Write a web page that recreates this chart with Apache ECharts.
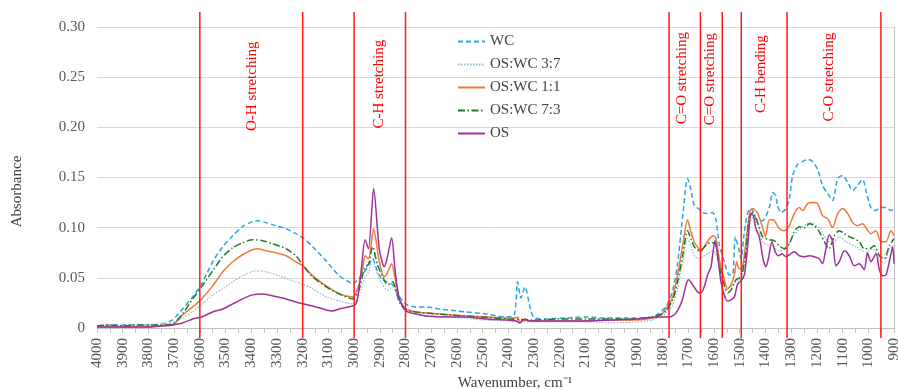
<!DOCTYPE html>
<html>
<head>
<meta charset="utf-8">
<script src="https://cdn.jsdelivr.net/npm/echarts@6.0.0/dist/echarts.min.js"></script>
<style>
html, body { margin: 0; padding: 0; background: #fff; }
#chart { width: 898px; height: 389px; }
</style>
</head>
<body>
<div id="chart"></div>
<script>
// data: [wavenumber, absorbance]
const wcPoints = [
  [4000,0.002],[3950,0.003],[3900,0.003],[3850,0.003],[3800,0.003],[3750,0.004],[3706,0.008],[3667,0.019],
  [3628,0.031],[3593,0.044],[3550,0.066],[3511,0.081],[3472,0.092],[3434,0.101],[3395,0.106],[3375,0.107],
  [3343,0.105],[3304,0.102],[3265,0.099],[3226,0.094],[3195,0.089],[3161,0.081],[3109,0.067],[3058,0.052],
  [3020,0.046],[3005,0.044],[2986,0.048],[2966,0.054],[2947,0.061],[2928,0.069],[2909,0.056],[2889,0.048],
  [2870,0.046],[2850,0.043],[2830,0.034],[2800,0.024],[2760,0.021],[2720,0.021],[2669,0.019],[2600,0.017],
  [2565,0.016],[2487,0.014],[2409,0.011],[2377,0.013],[2364,0.046],[2351,0.030],[2335,0.041],[2316,0.021],
  [2299,0.010],[2254,0.009],[2176,0.010],[2098,0.011],[2020,0.010],[1917,0.010],[1839,0.011],[1813,0.015],
  [1787,0.021],[1761,0.037],[1742,0.064],[1722,0.111],[1703,0.149],[1690,0.138],[1677,0.122],[1660,0.119],
  [1644,0.115],[1625,0.114],[1605,0.115],[1592,0.107],[1580,0.084],[1560,0.066],[1541,0.053],[1528,0.053],
  [1517,0.091],[1504,0.079],[1495,0.069],[1482,0.096],[1469,0.115],[1456,0.119],[1437,0.109],[1411,0.107],
  [1385,0.120],[1372,0.135],[1360,0.132],[1353,0.122],[1340,0.115],[1320,0.119],[1307,0.129],[1294,0.152],
  [1275,0.163],[1255,0.166],[1236,0.168],[1217,0.166],[1197,0.158],[1178,0.142],[1158,0.134],[1139,0.127],
  [1119,0.149],[1100,0.152],[1080,0.145],[1061,0.137],[1042,0.142],[1022,0.148],[1007,0.135],[990,0.120],
  [973,0.117],[951,0.120],[931,0.120],[912,0.117],[900,0.119]
];
const mix37Points = [
  [4000,0.002],[3900,0.002],[3800,0.003],[3750,0.004],[3706,0.005],[3667,0.010],[3628,0.016],[3593,0.023],
  [3550,0.033],[3511,0.039],[3472,0.046],[3434,0.052],[3382,0.057],[3343,0.056],[3291,0.052],[3239,0.047],
  [3195,0.043],[3161,0.039],[3109,0.031],[3058,0.027],[3006,0.024],[2980,0.033],[2960,0.049],[2943,0.056],
  [2928,0.069],[2909,0.053],[2889,0.043],[2870,0.038],[2850,0.041],[2831,0.031],[2800,0.017],[2720,0.012],
  [2630,0.011],[2500,0.008],[2400,0.007],[2300,0.006],[2200,0.006],[2100,0.006],[2000,0.005],[1900,0.006],
  [1840,0.008],[1813,0.011],[1787,0.015],[1761,0.023],[1742,0.039],[1722,0.066],[1703,0.089],[1690,0.082],
  [1677,0.072],[1660,0.069],[1644,0.071],[1625,0.074],[1605,0.077],[1586,0.069],[1573,0.053],[1554,0.039],
  [1534,0.041],[1515,0.046],[1495,0.049],[1478,0.069],[1463,0.102],[1450,0.110],[1430,0.102],[1411,0.086],
  [1385,0.082],[1366,0.080],[1346,0.077],[1320,0.079],[1294,0.091],[1268,0.098],[1229,0.105],[1191,0.100],
  [1165,0.089],[1139,0.084],[1113,0.091],[1087,0.086],[1048,0.081],[1009,0.076],[983,0.079],[957,0.069],
  [938,0.064],[918,0.079],[900,0.082]
];
const mix11Points = [
  [4000,0.001],[3900,0.001],[3800,0.001],[3750,0.002],[3706,0.003],[3667,0.013],[3628,0.021],[3593,0.029],
  [3550,0.042],[3511,0.056],[3472,0.066],[3434,0.073],[3395,0.078],[3375,0.079],[3343,0.077],[3304,0.075],
  [3265,0.072],[3226,0.066],[3195,0.061],[3161,0.052],[3109,0.042],[3058,0.034],[3006,0.031],[2986,0.039],
  [2967,0.059],[2957,0.072],[2944,0.069],[2924,0.099],[2902,0.066],[2883,0.051],[2872,0.054],[2854,0.064],
  [2840,0.049],[2824,0.029],[2798,0.019],[2759,0.016],[2720,0.015],[2669,0.014],[2565,0.012],[2487,0.011],
  [2409,0.010],[2370,0.010],[2362,0.011],[2357,0.006],[2338,0.008],[2300,0.007],[2200,0.007],[2100,0.007],
  [2000,0.008],[1900,0.008],[1813,0.012],[1787,0.019],[1761,0.031],[1742,0.053],[1722,0.082],[1703,0.108],
  [1690,0.096],[1677,0.086],[1660,0.079],[1651,0.076],[1638,0.081],[1618,0.089],[1602,0.092],[1592,0.089],
  [1580,0.069],[1560,0.048],[1547,0.039],[1534,0.043],[1521,0.053],[1512,0.066],[1502,0.059],[1489,0.061],
  [1473,0.092],[1460,0.117],[1450,0.119],[1430,0.114],[1411,0.100],[1400,0.091],[1385,0.108],[1370,0.108],
  [1346,0.099],[1327,0.097],[1307,0.102],[1288,0.114],[1268,0.120],[1255,0.117],[1236,0.124],[1217,0.125],
  [1197,0.124],[1178,0.112],[1158,0.109],[1139,0.100],[1119,0.114],[1100,0.119],[1080,0.114],[1061,0.105],
  [1042,0.102],[1022,0.104],[1007,0.099],[990,0.094],[970,0.097],[951,0.086],[931,0.086],[912,0.097],[900,0.092]
];
const mix73Points = [
  [4000,0.002],[3950,0.003],[3900,0.002],[3850,0.003],[3800,0.003],[3750,0.003],[3706,0.004],[3667,0.014],
  [3628,0.029],[3593,0.041],[3550,0.057],[3511,0.071],[3472,0.080],[3434,0.085],[3395,0.088],[3356,0.087],
  [3317,0.084],[3265,0.079],[3226,0.072],[3195,0.061],[3161,0.051],[3109,0.041],[3058,0.034],[3006,0.029],
  [2980,0.039],[2960,0.059],[2943,0.064],[2928,0.081],[2909,0.063],[2889,0.051],[2870,0.043],[2850,0.046],
  [2838,0.039],[2824,0.026],[2798,0.018],[2720,0.015],[2630,0.013],[2500,0.011],[2400,0.009],[2300,0.008],
  [2200,0.009],[2100,0.009],[2000,0.009],[1900,0.009],[1813,0.013],[1787,0.017],[1761,0.028],[1742,0.046],
  [1722,0.072],[1703,0.097],[1690,0.089],[1677,0.081],[1660,0.077],[1644,0.079],[1625,0.084],[1605,0.085],
  [1592,0.082],[1580,0.062],[1560,0.043],[1547,0.035],[1534,0.038],[1515,0.048],[1495,0.051],[1478,0.072],
  [1463,0.109],[1450,0.115],[1430,0.105],[1411,0.091],[1385,0.088],[1366,0.087],[1346,0.082],[1327,0.079],
  [1307,0.084],[1288,0.096],[1268,0.101],[1249,0.100],[1229,0.104],[1210,0.102],[1191,0.096],[1171,0.086],
  [1152,0.079],[1132,0.092],[1113,0.097],[1093,0.094],[1074,0.091],[1055,0.089],[1035,0.086],[1016,0.079],
  [996,0.079],[977,0.082],[957,0.072],[938,0.069],[918,0.082],[900,0.089]
];
const osPoints = [
  [4000,0.001],[3900,0.001],[3800,0.001],[3750,0.002],[3706,0.003],[3667,0.005],[3628,0.009],[3593,0.011],
  [3550,0.016],[3511,0.019],[3472,0.024],[3434,0.029],[3395,0.033],[3356,0.034],[3317,0.032],[3265,0.029],
  [3213,0.025],[3161,0.022],[3109,0.018],[3083,0.017],[3058,0.019],[3006,0.022],[2993,0.024],[2986,0.030],
  [2973,0.056],[2957,0.088],[2944,0.079],[2924,0.139],[2902,0.079],[2883,0.061],[2872,0.069],[2854,0.090],
  [2840,0.056],[2824,0.029],[2798,0.017],[2759,0.014],[2720,0.012],[2630,0.011],[2565,0.011],[2487,0.009],
  [2409,0.008],[2370,0.007],[2357,0.005],[2335,0.009],[2320,0.007],[2200,0.007],[2100,0.007],[2000,0.008],
  [1900,0.009],[1813,0.011],[1774,0.011],[1748,0.015],[1722,0.029],[1709,0.043],[1699,0.048],[1683,0.043],
  [1664,0.036],[1651,0.035],[1638,0.041],[1625,0.053],[1612,0.061],[1596,0.087],[1586,0.072],[1573,0.046],
  [1560,0.033],[1547,0.027],[1534,0.028],[1521,0.031],[1508,0.044],[1495,0.047],[1482,0.053],[1469,0.082],
  [1456,0.114],[1447,0.112],[1437,0.099],[1424,0.091],[1408,0.067],[1398,0.061],[1388,0.070],[1375,0.086],
  [1362,0.076],[1350,0.072],[1335,0.074],[1320,0.071],[1307,0.073],[1288,0.076],[1268,0.072],[1249,0.071],
  [1229,0.072],[1210,0.071],[1191,0.069],[1178,0.064],[1165,0.079],[1152,0.093],[1139,0.087],[1126,0.062],
  [1113,0.066],[1093,0.077],[1074,0.072],[1055,0.062],[1035,0.064],[1016,0.058],[1003,0.075],[990,0.066],
  [970,0.074],[957,0.058],[944,0.052],[931,0.053],[916,0.069],[905,0.081],[900,0.064]
];
const seriesNames = ['WC', 'OS:WC 3:7', 'OS:WC 1:1', 'OS:WC 7:3', 'OS'];

// annotations
const bandLines = [3600, 3200, 3000, 2800, 1775, 1653, 1568, 1494, 1316, 951];
const bandLineSpan = [-0.010, 0.315];
const bandLabels = ['O-H stretching', 'C-H stretching', 'C=O stretching', 'C=O stretching', 'C-H bending', 'C-O stretching'];
const bandLabelPos = [[3396, 0.241], [2902, 0.243], [1725, 0.249], [1616, 0.248], [1417, 0.253], [1152, 0.250]];

const serif = 'Liberation Serif';
const chart = echarts.init(document.getElementById('chart'));

const lineSeries = (name, data, color, type, width) => ({
  name: name,
  type: 'line',
  data: data,
  symbol: 'none',
  smooth: 0.25,
  lineStyle: { color: color, type: type, width: width },
  itemStyle: { color: color },
  z: 3
});

// vertical red separators, broken apart by empty points
const bandLineData = [];
bandLines.forEach(x => {
  bandLineData.push([x, bandLineSpan[0]], [x, bandLineSpan[1]], [x, '-']);
});

const option = {
  animation: false,
  grid: { left: 97, right: 4, top: 27, bottom: 61, outerBoundsMode: 'none' },
  legend: {
    data: seriesNames,
    orient: 'vertical',
    left: 457,
    top: 34,
    padding: 0,
    itemWidth: 27,
    itemHeight: 14,
    itemGap: 8,
    itemStyle: { opacity: 0 },
    textStyle: { fontFamily: serif, fontSize: 15, color: '#404040' }
  },
  xAxis: {
    type: 'value',
    inverse: true,
    min: 900,
    max: 4000,
    interval: 100,
    name: 'Wavenumber, cm\u207B\u00B9',
    nameLocation: 'middle',
    nameGap: 46,
    nameTextStyle: { fontFamily: serif, fontSize: 15, color: '#404040', padding: [0, 0, 0, 39] },
    axisLine: { lineStyle: { color: '#bfbfbf' } },
    axisTick: { length: 5, lineStyle: { color: '#bfbfbf' } },
    minorTick: { show: true, splitNumber: 2, length: 5, lineStyle: { color: '#bfbfbf' } },
    splitLine: { show: false },
    axisLabel: {
      rotate: 90, margin: 10, fontFamily: serif, fontSize: 15, color: '#595959',
      formatter: v => String(v)
    }
  },
  yAxis: [{
    type: 'value',
    min: 0,
    max: 0.30,
    interval: 0.05,
    name: 'Absorbance',
    nameLocation: 'middle',
    nameRotate: 90,
    nameGap: 72,
    nameTextStyle: { fontFamily: serif, fontSize: 15, color: '#404040', padding: [0, 28, 0, 0] },
    axisLine: { show: false },
    axisTick: { show: false },
    splitLine: { lineStyle: { color: '#d9d9d9' } },
    axisLabel: {
      margin: 12, fontFamily: serif, fontSize: 15, color: '#595959',
      formatter: v => v === 0 ? '0' : v.toFixed(2)
    }
  }, {
    type: 'value',
    position: 'right',
    min: 0,
    max: 0.30,
    axisLine: { show: true, lineStyle: { color: '#bfbfbf' } },
    axisTick: { show: false },
    axisLabel: { show: false },
    splitLine: { show: false }
  }],
  series: [
    lineSeries(seriesNames[0], wcPoints, '#27a6e0', [5, 3], 1.5),
    lineSeries(seriesNames[1], mix37Points, '#8db9cc', [1.5, 1.5], 1.2),
    lineSeries(seriesNames[2], mix11Points, '#f07838', 'solid', 1.5),
    lineSeries(seriesNames[3], mix73Points, '#23782a', [7, 2.5, 1.5, 2.5], 1.5),
    lineSeries(seriesNames[4], osPoints, '#a0309a', 'solid', 1.5),
    {
      name: 'bands',
      type: 'line',
      data: bandLineData,
      symbol: 'none',
      clip: false,
      silent: true,
      connectNulls: false,
      lineStyle: { color: '#ff1a1a', width: 1.5 },
      z: 4,
      markPoint: {
        silent: true,
        symbol: 'circle',
        symbolSize: 0,
        label: {
          show: true, position: 'inside', formatter: '{b}', rotate: 90,
          fontFamily: serif, fontSize: 15, color: '#ff0000'
        },
        data: bandLabels.map((t, i) => ({ name: t, coord: bandLabelPos[i] }))
      }
    }
  ]
};
chart.setOption(option);
</script>
</body>
</html>
